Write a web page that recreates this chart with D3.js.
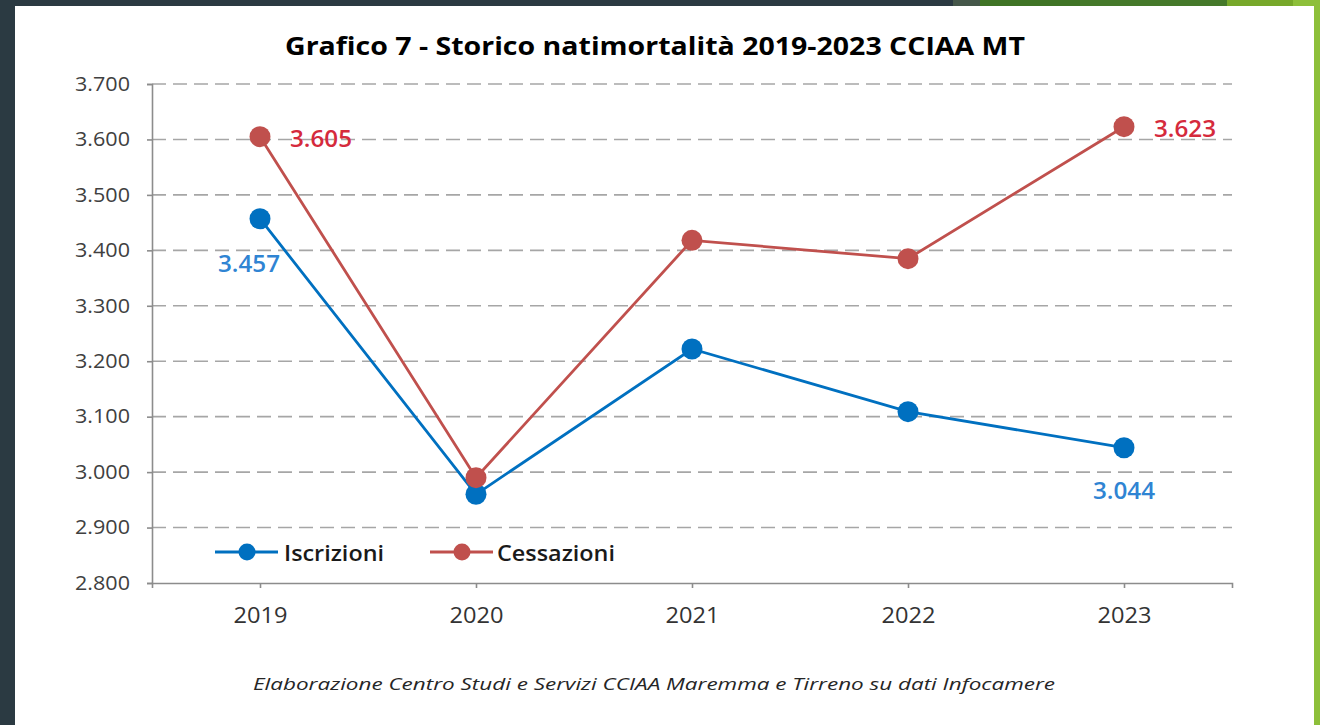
<!DOCTYPE html>
<html><head><meta charset="utf-8">
<script src="https://cdn.jsdelivr.net/npm/d3@7"></script>
<style>html,body{margin:0;padding:0;background:#fff;overflow:hidden}</style>
</head><body>
<svg id="c" width="1320" height="725"></svg>
<script>
const years = ["2019","2020","2021","2022","2023"];
const iscrizioni = [3457, 2960, 3222, 3109, 3044];
const cessazioni = [3605, 2990, 3418, 3385, 3623];
const yTicks = [2800, 2900, 3000, 3100, 3200, 3300, 3400, 3500, 3600, 3700];
const title = "Grafico 7 - Storico natimortalità 2019-2023 CCIAA MT";
const source = "Elaborazione Centro Studi e Servizi CCIAA Maremma e Tirreno su dati Infocamere";
const seriesNames = ["Iscrizioni", "Cessazioni"];

const svg = d3.select("#c");
const font = "'Open Sans', 'Noto Sans', sans-serif";
const fmt = v => d3.format(",")(v).replace(/,/g, ".");
const fmtTick = v => (v/1000).toFixed(3);

// frame decoration
svg.append("rect").attr("x",0).attr("y",0).attr("width",1320).attr("height",725).attr("fill","#fff");
svg.append("rect").attr("x",0).attr("y",0).attr("width",15).attr("height",725).attr("fill","#2b3a42");
svg.append("rect").attr("x",0).attr("y",0).attr("width",1320).attr("height",6).attr("fill","#2b3a42");
const bands = [[953,980,"#45574a"],[980,1080,"#3f7426"],[1080,1227,"#45792a"],[1227,1293,"#77a82a"],[1293,1320,"#8dbf3a"]];
bands.forEach(b=>svg.append("rect").attr("x",b[0]).attr("y",0).attr("width",b[1]-b[0]).attr("height",6).attr("fill",b[2]));
svg.append("rect").attr("x",1314).attr("y",0).attr("width",6).attr("height",725).attr("fill","#8dbf3a");

const x0 = 152, x1 = 1232, yTop = 84, yBot = 583;
const x = d3.scalePoint().domain(years).range([x0, x1]).padding(0.5);
const y = d3.scaleLinear().domain([2800, 3700]).range([yBot, yTop]);

// gridlines
svg.append("g").selectAll("line").data(yTicks.filter(t=>t>2800)).join("line")
  .attr("x1", x0).attr("x2", x1).attr("y1", d=>y(d)).attr("y2", d=>y(d))
  .attr("stroke","#a6a6a6").attr("stroke-width",1.6).attr("stroke-dasharray","14,7");

// y axis
const yAxis = svg.append("g").attr("transform",`translate(${x0},0)`)
  .call(d3.axisLeft(y).tickValues(yTicks).tickFormat(fmtTick).tickSize(5).tickPadding(17));
yAxis.select(".domain").attr("stroke","#8c8c8c").attr("stroke-width",1.6);
yAxis.selectAll(".tick line").attr("stroke","#8c8c8c").attr("stroke-width",1.6);
yAxis.selectAll("text").attr("font-family",font).attr("font-size",19.5).attr("fill","#404040")
  .attr("textLength",55).attr("lengthAdjust","spacingAndGlyphs");

// x axis
const xAxis = svg.append("g").attr("transform",`translate(0,${yBot})`)
  .call(d3.axisBottom(x).tickSize(5).tickSizeOuter(5).tickPadding(20));
xAxis.select(".domain").attr("stroke","#8c8c8c").attr("stroke-width",1.6);
xAxis.selectAll(".tick line").attr("stroke","#8c8c8c").attr("stroke-width",1.6);
xAxis.selectAll("text").attr("font-family",font).attr("font-size",21.5).attr("fill","#333")
  .attr("textLength",54).attr("lengthAdjust","spacingAndGlyphs");

const series = [
  {name: seriesNames[0], vals: iscrizioni, color:"#0070c0", label:"#2f84d3"},
  {name: seriesNames[1], vals: cessazioni, color:"#c0504d", label:"#d52a3c"}
];
const line = d3.line().x((d,i)=>x(years[i])).y(d=>y(d));
series.forEach(s=>{
  svg.append("path").datum(s.vals).attr("d",line).attr("fill","none")
    .attr("stroke",s.color).attr("stroke-width",2.8);
});
series.forEach(s=>{
  svg.append("g").selectAll("circle").data(s.vals).join("circle")
    .attr("cx",(d,i)=>x(years[i])).attr("cy",d=>y(d)).attr("r",10.5).attr("fill",s.color);
});

// data labels (first and last)
const lab = (txt, cx, cy, color) => svg.append("text").text(txt).attr("x",cx).attr("y",cy)
  .attr("text-anchor","middle").attr("dominant-baseline","central")
  .attr("font-family",font).attr("font-weight","600").attr("font-size",23).attr("fill",color)
  .attr("textLength",62).attr("lengthAdjust","spacingAndGlyphs");
lab(fmt(cessazioni[0]), x(years[0])+61, y(cessazioni[0])+1, series[1].label);
lab(fmt(cessazioni[4]), x(years[4])+61, y(cessazioni[4])+1, series[1].label);
lab(fmt(iscrizioni[0]), x(years[0])-11, y(iscrizioni[0])+44, series[0].label);
lab(fmt(iscrizioni[4]), x(years[4]), y(iscrizioni[4])+42, series[0].label);

// legend
const legendItems = [{s:series[0], x:215, tx:284, w:100},{s:series[1], x:430, tx:497, w:118}];
legendItems.forEach(li=>{
  const ly = 552;
  svg.append("line").attr("x1",li.x).attr("x2",li.x+63).attr("y1",ly).attr("y2",ly)
    .attr("stroke",li.s.color).attr("stroke-width",3);
  svg.append("circle").attr("cx",li.x+32).attr("cy",ly).attr("r",8.5).attr("fill",li.s.color);
  svg.append("text").text(li.s.name).attr("x",li.tx).attr("y",ly).attr("dominant-baseline","central")
    .attr("font-family",font).attr("font-weight","600").attr("font-size",22).attr("fill","#1a1a1a")
    .attr("textLength",li.w).attr("lengthAdjust","spacingAndGlyphs");
});

// title
svg.append("text").text(title).attr("x",655).attr("y",45).attr("text-anchor","middle")
  .attr("dominant-baseline","central").attr("font-family",font).attr("font-weight","bold")
  .attr("font-size",25).attr("fill","#000").attr("textLength",740).attr("lengthAdjust","spacingAndGlyphs");

// source
svg.append("text").text(source).attr("x",654).attr("y",683).attr("text-anchor","middle")
  .attr("dominant-baseline","central").attr("font-family",font).attr("font-style","italic")
  .attr("font-size",17).attr("fill","#262626").attr("textLength",802).attr("lengthAdjust","spacingAndGlyphs");
</script>
</body></html>
